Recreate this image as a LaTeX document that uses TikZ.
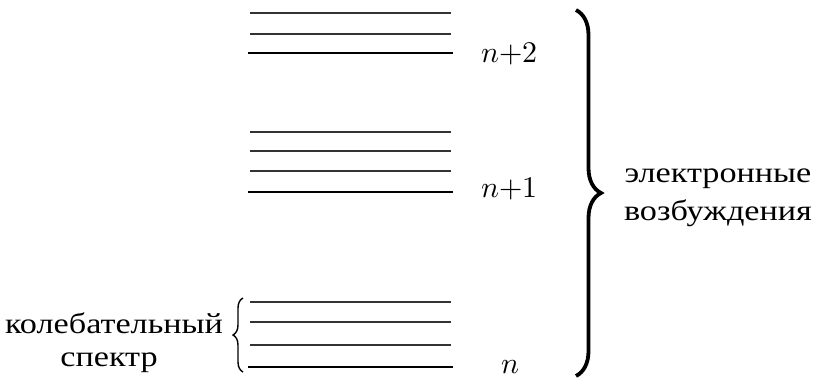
\documentclass[tikz,border=0pt]{standalone}
\usepackage{fontspec}
\usepackage{unicode-math}
\newfontfamily\ru[FakeStretch=1.18]{Liberation Serif}
\usetikzlibrary{decorations.pathreplacing}
\begin{document}
\begin{tikzpicture}[x=1pt,y=-1pt,
  lvl/.style={line width=1.4pt, draw=black!80},
  base/.style={line width=2.4pt, draw=black},
  lab/.style={font=\fontsize{30}{36}\selectfont, inner sep=0pt, anchor=base west},
  txt/.style={font=\ru\fontsize{29}{34}\selectfont, inner sep=0pt, anchor=base}]
\useasboundingbox (0,0) rectangle (816,378);
% level n+2
\foreach \y in {13,34} \draw[lvl] (250,\y) -- (451,\y);
\draw[base] (248,53) -- (453,53);
% level n+1
\foreach \y in {132,151,171} \draw[lvl] (250,\y) -- (451,\y);
\draw[base] (248,192) -- (453,192);
% level n
\foreach \y in {302,322,345} \draw[lvl] (250,\y) -- (451,\y);
\draw[base] (248,367) -- (453,367);
% labels
\node[lab] (n2) at (481,62) {$n{+}2$};
\node[lab] (n1) at (481,197) {$n{+}1$};
\node[lab] (n0) at (501,373) {$n$};
% big brace
\draw[decorate, decoration={brace, amplitude=25pt}, line width=3.8pt] (576,10) -- (576,376);
\node[txt] (e1) at (718,182) {электронные};
\node[txt] (e2) at (718,220) {возбуждения};
% small brace
\draw[decorate, decoration={brace, amplitude=10pt}, line width=1.4pt] (243,372) -- (243,298);
\node[txt] (k1) at (114,333) {колебательный};
\node[txt] (k2) at (109,366) {спектр};
\end{tikzpicture}
\end{document}
